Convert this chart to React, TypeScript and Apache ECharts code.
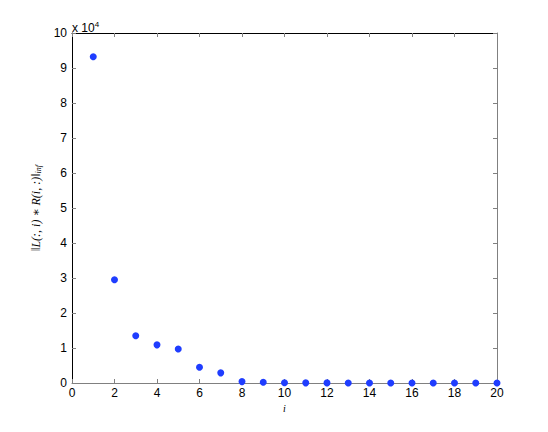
import React, { useEffect, useRef } from "react";
import * as echarts from "echarts";

const xValues = [1, 2, 3, 4, 5, 6, 7, 8, 9, 10, 11, 12, 13, 14, 15, 16, 17, 18, 19, 20];
const yValues = [93200, 29500, 13500, 10900, 9700, 4500, 2900, 400, 200, 60, 40, 30, 20, 15, 10, 8, 6, 5, 4, 3];
const scaleExp = 4;

export default function App() {
  const ref = useRef<HTMLDivElement>(null);
  useEffect(() => {
    if (!ref.current) return;
    const chart = echarts.init(ref.current, undefined, { renderer: "svg" });
    const font = "Liberation Sans, Arial, Helvetica, sans-serif";
    const serif = "Liberation Serif, DejaVu Serif, serif";
    const scale = Math.pow(10, scaleExp);
    const tick = { show: true, inside: true, length: 4, lineStyle: { color: "#808080", width: 1 } };
    const blackLine = { show: true, onZero: false, lineStyle: { color: "#000", width: 1 } };
    const grayLine = { show: true, onZero: false, lineStyle: { color: "#808080", width: 1 } };
    chart.setOption({
      animation: false,
      backgroundColor: "#fff",
      grid: { left: 72, right: 51, top: 33, bottom: 49, containLabel: false },
      xAxis: [
        {
          type: "value", min: 0, max: 20, interval: 2, position: "bottom",
          axisLine: grayLine, axisTick: tick, splitLine: { show: false },
          axisLabel: { color: "#000", fontFamily: font, fontSize: 12, margin: 4 },
          name: "i", nameLocation: "middle", nameGap: 16,
          nameTextStyle: { fontFamily: serif, fontStyle: "italic", fontSize: 10, color: "#000" },
        },
        {
          type: "value", min: 0, max: 20, interval: 2, position: "top",
          axisLine: blackLine, axisTick: tick, splitLine: { show: false }, axisLabel: { show: false },
        },
      ],
      yAxis: [
        {
          type: "value", min: 0, max: 10 * scale, interval: scale, position: "left",
          axisLine: blackLine, axisTick: tick, splitLine: { show: false },
          axisLabel: { color: "#000", fontFamily: font, fontSize: 12, margin: 5, formatter: (v: number) => String(Math.round(v / scale)) },
          name: "{n|‖L(:, i) ∗ R(i, :)‖}{s|inf}", nameLocation: "middle", nameGap: 24, nameRotate: 90,
          nameTextStyle: {
            rich: {
              n: { fontFamily: serif, fontStyle: "italic", fontSize: 12, color: "#000" },
              s: { fontFamily: serif, fontStyle: "italic", fontSize: 8, color: "#000", padding: [6, 0, 0, 0] },
            },
          },
        },
        {
          type: "value", min: 0, max: 10 * scale, interval: scale, position: "right",
          axisLine: grayLine, axisTick: tick, splitLine: { show: false }, axisLabel: { show: false },
        },
      ],
      graphic: [
        {
          type: "text", left: 72, top: 20,
          style: { rich: { a: { fontFamily: font, fontSize: 12, fill: "#000" }, b: { fontFamily: font, fontSize: 8, fill: "#000", verticalAlign: "top", padding: [0, 0, 8, 0] } }, text: "{a|x 10}{b|" + scaleExp + "}" },
        },
      ],
      series: [
        {
          type: "scatter", xAxisIndex: 0, yAxisIndex: 0,
          data: xValues.map((x, i) => [x, yValues[i]]),
          symbol: "circle", symbolSize: 7,
          itemStyle: { color: "#1f3dff", opacity: 1 },
        },
      ],
    });
    return () => chart.dispose();
  }, []);
  return <div ref={ref} style={{ width: 548, height: 432, position: "absolute", left: 0, top: 0 }} />;
}
